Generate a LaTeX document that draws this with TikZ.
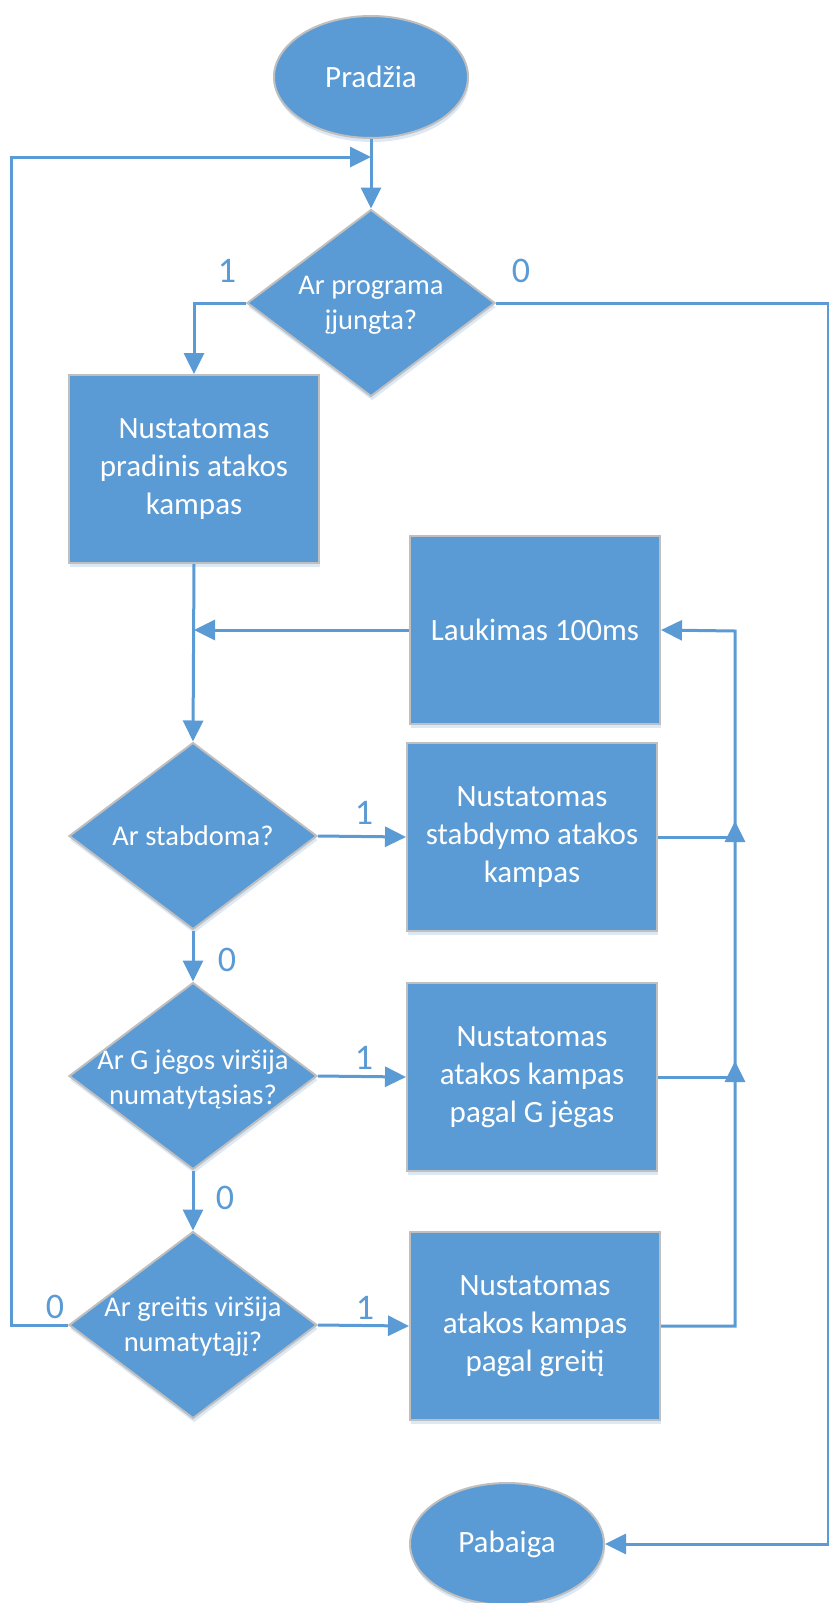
\documentclass[tikz,border=0pt]{standalone}
\usepackage{fontspec}
\setmainfont{Carlito}
\usetikzlibrary{shapes.geometric,arrows.meta,shadows}
\definecolor{fillb}{HTML}{5B9BD5}
\definecolor{bord}{HTML}{BFBFBF}
\definecolor{shad}{HTML}{DDE8F5}
\begin{document}
\begin{tikzpicture}[x=1pt,y=-1pt,
  line/.style={draw=fillb, line width=3pt},
  arr/.style={line, -{Triangle[length=21pt,width=20pt]}},
  shd/.style={drop shadow={shadow xshift=1pt, shadow yshift=-4pt, fill=shad, opacity=1}},
  txt/.style={text=white, align=center, font=\fontsize{31}{38}\selectfont},
  dtxt/.style={text=white, align=center, font=\fontsize{28.5}{35}\selectfont},
  blk/.style={rectangle, fill=fillb, draw=bord, line width=2pt, minimum width=250pt, minimum height=188pt, inner sep=0pt, shd, txt},
  dec/.style={diamond, fill=fillb, draw=bord, line width=2pt, minimum width=248pt, minimum height=187pt, inner sep=0pt, shd},
  term/.style={ellipse, fill=fillb, draw=bord, line width=2pt, minimum width=194pt, minimum height=122pt, inner sep=0pt, shd, txt},
  lbl/.style={text=fillb, font=\fontsize{36}{40}\selectfont, inner sep=0pt}
]
\useasboundingbox (0,0) rectangle (829,1603);

% nodes
\node[term] (start) at (371,77) {Pradžia};
\node[dec] (d1) at (371,303) {};
\node[dtxt] (t1) at (371,305) {Ar programa\\įjungta?};
\node[blk] (b1) at (194,469) {Nustatomas\\pradinis atakos\\kampas};
\node[blk] (wait) at (535,630) {Laukimas 100ms};
\node[dec] (d2) at (193,836) {};
\node[dtxt] (t2) at (d2) {Ar stabdoma?};
\node[blk] (b2) at (532,837) {Nustatomas\\stabdymo atakos\\kampas};
\node[dec] (d3) at (193,1076) {};
\node[dtxt] (t3) at (193,1079) {Ar G jėgos viršija\\numatytąsias?};
\node[blk] (b3) at (532,1077) {Nustatomas\\atakos kampas\\pagal G jėgas};
\node[dec] (d4) at (193,1325) {};
\node[dtxt] (t4) at (193,1327) {Ar greitis viršija\\numatytąjį?};
\node[blk] (b4) at (535,1326) {Nustatomas\\atakos kampas\\pagal greitį};
\node[term] (pab) at (507,1544) {Pabaiga};

% helper coordinates
\coordinate (j1) at (371,157);
\coordinate (lft) at (11,157);
\coordinate (rc) at (828,303);
\coordinate (rv) at (735,631);
\coordinate (u2) at (735,821);
\coordinate (u3) at (735,1061);

% connectors
\draw[arr] (start) -- (d1.north);
\draw[arr] (d4.west) -- (d4.west -| lft) -- (lft) -- (j1);
\draw[arr] (d1.west) -| (b1.north);
\draw[arr] (d1.east) -- (rc) |- (pab.east);
\draw[arr] (b1.south) -- (d2.north);
\draw[arr] (wait.west) -- (wait.west -| b1.south);
\draw[arr] (d2.east) -- (b2.west);
\draw[arr] (b2.east) -| (u2);
\draw[arr] (d2.south) -- (d3.north);
\draw[arr] (d3.east) -- (b3.west);
\draw[arr] (b3.east) -| (u3);
\draw[arr] (d3.south) -- (d4.north);
\draw[arr] (d4.east) -- (b4.west);
\draw[arr] (b4.east) -| (rv) -- (wait.east);

% labels
\node[lbl] (l1) at (227,271) {1};
\node[lbl] (l0) at (521,271) {0};
\node[lbl] (l21) at (364,813) {1};
\node[lbl] (l20) at (227,960) {0};
\node[lbl] (l31) at (364,1058) {1};
\node[lbl] (l30) at (225,1198) {0};
\node[lbl] (l41) at (365,1308) {1};
\node[lbl] (l40) at (55,1307) {0};
\end{tikzpicture}
\end{document}
